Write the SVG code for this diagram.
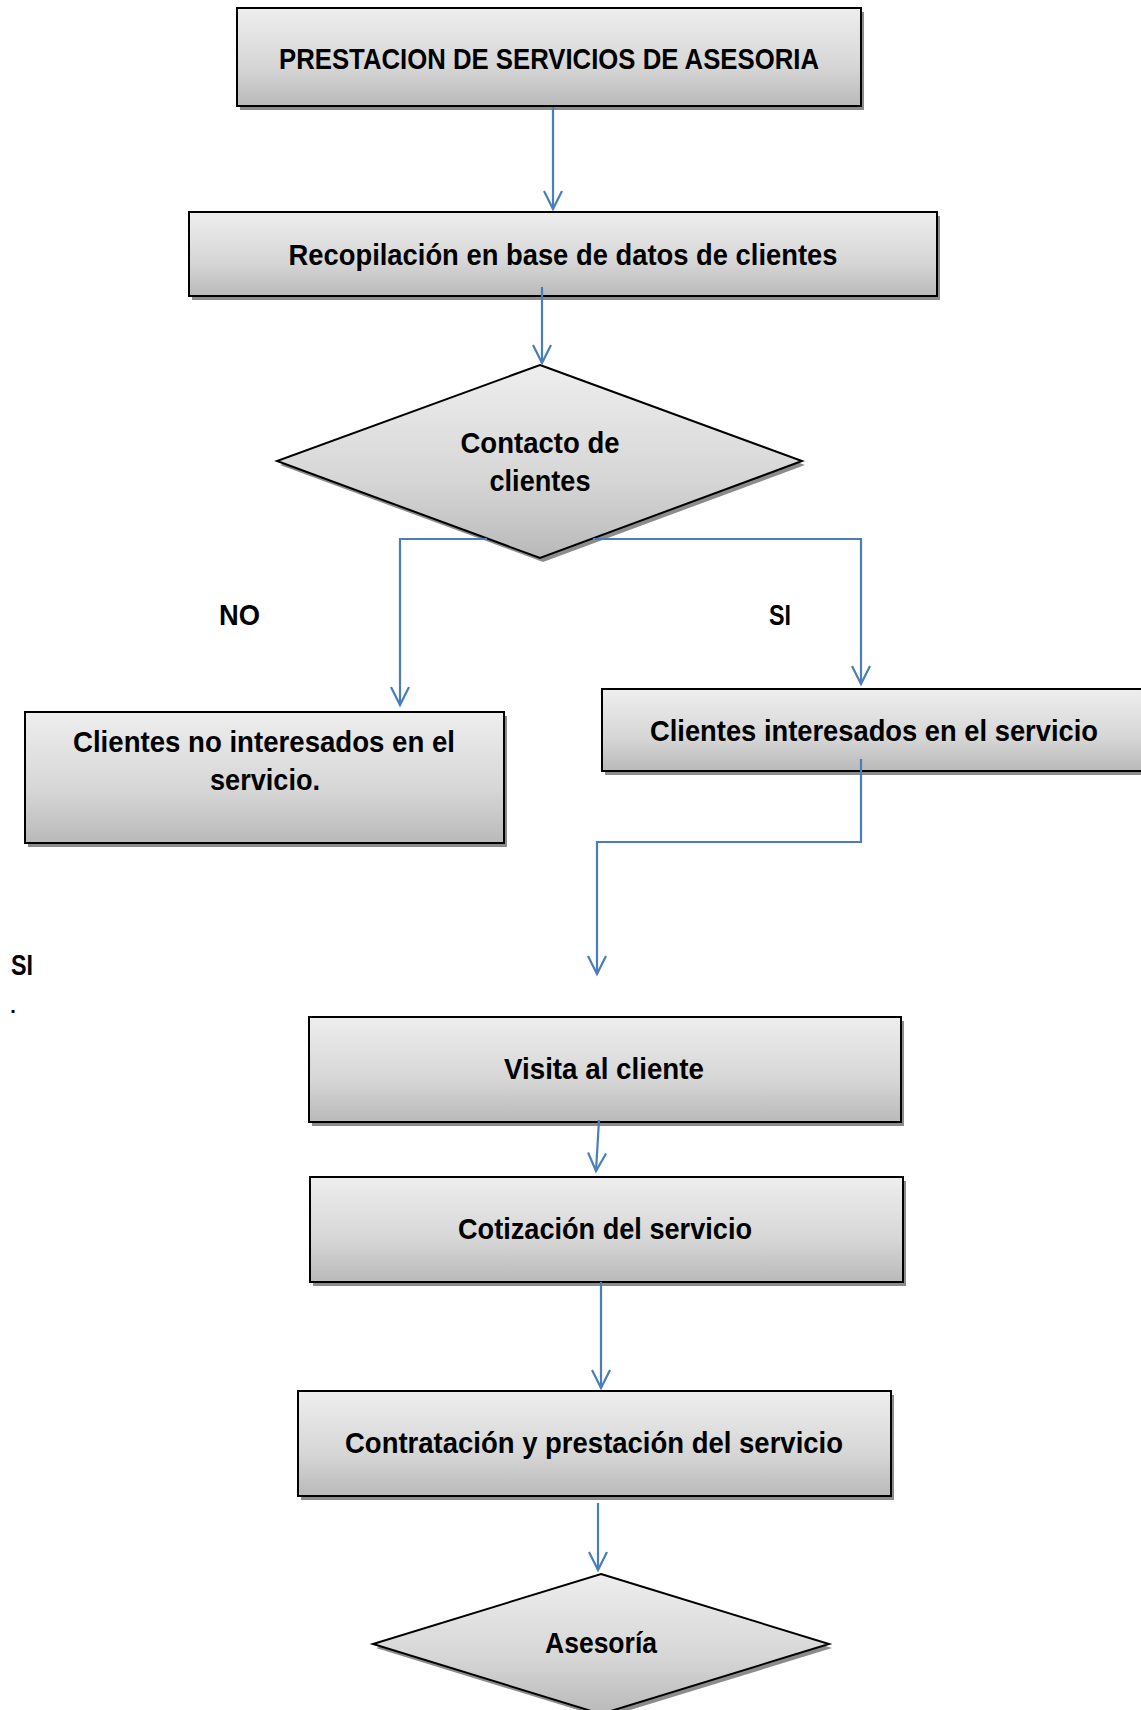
<svg xmlns="http://www.w3.org/2000/svg" width="1141" height="1710" viewBox="0 0 1141 1710">
<defs>
<linearGradient id="g" x1="0" y1="0" x2="0" y2="1">
<stop offset="0" stop-color="#eeeeee"/>
<stop offset="0.6" stop-color="#d6d6d6"/>
<stop offset="1" stop-color="#b9b9b9"/>
</linearGradient>
<marker id="ah" markerUnits="userSpaceOnUse" viewBox="0 0 22 22" refX="19" refY="11" markerWidth="22" markerHeight="22" orient="auto">
<path d="M 1 2 L 19 11 L 1 20" fill="none" stroke="#4a7ebb" stroke-width="2.2"/>
</marker>
<style>
.box{fill:url(#g);stroke:#000;stroke-width:2}
.sh{fill:#8c8c8c}
.t{font-family:"Liberation Sans",Arial,sans-serif;font-weight:bold;font-size:29.5px;fill:#000;text-anchor:middle}
.c{fill:none;stroke:#4a7ebb;stroke-width:2.2}
.a{marker-end:url(#ah)}
</style>
</defs>
<rect width="1141" height="1710" fill="#fff"/>

<g id="n1">
<rect class="sh" x="240" y="12" width="624" height="98"/>
<rect class="box" x="237" y="8" width="624" height="98"/>
<text class="t" x="549" y="69" textLength="540" lengthAdjust="spacingAndGlyphs">PRESTACION DE SERVICIOS DE ASESORIA</text>
</g>

<g id="n2">
<rect class="sh" x="192" y="216" width="748" height="84"/>
<rect class="box" x="189" y="212" width="748" height="84"/>
<text class="t" x="563" y="265" textLength="549" lengthAdjust="spacingAndGlyphs">Recopilación en base de datos de clientes</text>
</g>

<g id="d1">
<polygon class="sh" points="543,369 805,465 543,562 280,465"/>
<polygon class="box" points="540,365 802,461 540,558 277,461"/>
<text class="t" x="540" y="453" textLength="159" lengthAdjust="spacingAndGlyphs">Contacto de</text>
<text class="t" x="540" y="491" textLength="101" lengthAdjust="spacingAndGlyphs">clientes</text>
</g>

<g id="lbl-no"><text class="t" x="239.5" y="625" textLength="41" lengthAdjust="spacingAndGlyphs">NO</text></g>
<g id="lbl-si"><text class="t" x="780" y="625" textLength="22" lengthAdjust="spacingAndGlyphs">SI</text></g>

<g id="n3">
<rect class="sh" x="28" y="716" width="479" height="131"/>
<rect class="box" x="25" y="712" width="479" height="131"/>
<text class="t" x="264" y="752" textLength="382" lengthAdjust="spacingAndGlyphs">Clientes no interesados en el</text>
<text class="t" x="265" y="790" textLength="110" lengthAdjust="spacingAndGlyphs">servicio.</text>
</g>

<g id="n4">
<rect class="sh" x="605" y="693" width="545" height="82"/>
<rect class="box" x="602" y="689" width="545" height="82"/>
<text class="t" x="874" y="741" textLength="448" lengthAdjust="spacingAndGlyphs">Clientes interesados en el servicio</text>
</g>

<g id="lbl-si2">
<text class="t" x="22" y="975" textLength="22" lengthAdjust="spacingAndGlyphs">SI</text>
<text class="t" x="13" y="1013" style="font-size:20px">.</text>
</g>

<g id="n5">
<rect class="sh" x="312" y="1021" width="592" height="105"/>
<rect class="box" x="309" y="1017" width="592" height="105"/>
<text class="t" x="604" y="1079" textLength="200" lengthAdjust="spacingAndGlyphs">Visita al cliente</text>
</g>

<g id="n6">
<rect class="sh" x="313" y="1181" width="593" height="105"/>
<rect class="box" x="310" y="1177" width="593" height="105"/>
<text class="t" x="605" y="1239" textLength="294" lengthAdjust="spacingAndGlyphs">Cotización del servicio</text>
</g>

<g id="n7">
<rect class="sh" x="301" y="1395" width="593" height="105"/>
<rect class="box" x="298" y="1391" width="593" height="105"/>
<text class="t" x="594" y="1453" textLength="498" lengthAdjust="spacingAndGlyphs">Contratación y prestación del servicio</text>
</g>

<g id="d2">
<polygon class="sh" points="604,1578 832,1648 604,1718 376,1648"/>
<polygon class="box" points="601,1574 829,1644 601,1714 373,1644"/>
<text class="t" x="601" y="1653" textLength="112" lengthAdjust="spacingAndGlyphs">Asesoría</text>
</g>

<g id="connectors">
<path class="c a" d="M 553 107 L 553 209"/>
<path class="c a" d="M 542 287 L 542 363"/>
<path class="c a" d="M 487 539 L 400 539 L 400 705"/>
<path class="c a" d="M 593 539 L 861 539 L 861 684"/>
<path class="c a" d="M 861 759 L 861 842 L 597 842 L 597 974"/>
<path class="c a" d="M 599 1120 L 596 1171"/>
<path class="c a" d="M 601 1282 L 601 1388"/>
<path class="c a" d="M 598 1503 L 598 1570"/>
</g>
</svg>
